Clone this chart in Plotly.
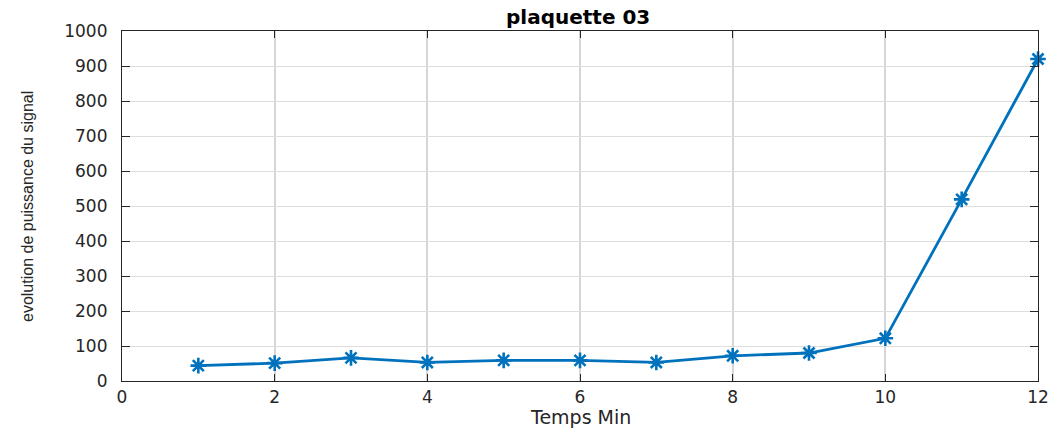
import plotly.graph_objects as go

temps = [1, 2, 3, 4, 5, 6, 7, 8, 9, 10, 11, 12]
puissance = [44, 51, 66, 53, 59, 59, 53, 72, 80, 122, 519, 920]
x_ticks = [0, 2, 4, 6, 8, 10, 12]
y_ticks = [0, 100, 200, 300, 400, 500, 600, 700, 800, 900, 1000]

fig = go.Figure()
fig.add_trace(go.Scatter(
    x=temps, y=puissance, mode="lines+markers",
    line=dict(color="#0072BD", width=2.8),
    marker=dict(symbol="asterisk", size=13, color="#0072BD",
                line=dict(color="#0072BD", width=2.6)),
    cliponaxis=False, showlegend=False,
))

axis_font = dict(family="DejaVu Sans, Liberation Sans, Arial", size=17, color="#262626")

L, R, T, B = 122, 17, 31, 47
W, H = 1055, 428
pw, ph = W - L - R, H - T - B

fig.update_layout(
    width=W, height=H,
    margin=dict(l=L, r=R, t=T, b=B, autoexpand=False),
    paper_bgcolor="white", plot_bgcolor="white",
    title=dict(text="<b>plaquette 03</b>", x=0.548, xanchor="center",
               y=1 - 17 / 428, yanchor="middle", yref="container",
               font=dict(family="DejaVu Sans, Liberation Sans, Arial", size=20, color="black")),
    xaxis=dict(
        range=[0, 12], tickvals=x_ticks, ticktext=[str(v) for v in x_ticks],
        showgrid=True, gridcolor="#d6d6d6", gridwidth=2,
        showline=True, linecolor="#262626", linewidth=1.2, mirror="ticks",
        ticks="inside", ticklen=7, tickcolor="#262626", tickwidth=1,
        tickfont=axis_font, zeroline=False, automargin=False, ticklabelstandoff=0,
    ),
    yaxis=dict(
        range=[0, 1000], tickvals=y_ticks, ticktext=[str(v) for v in y_ticks],
        showgrid=True, gridcolor="#dedede", gridwidth=1,
        showline=True, linecolor="#262626", linewidth=1.2, mirror="ticks",
        ticks="inside", ticklen=8, tickcolor="#262626", tickwidth=1,
        tickfont=axis_font, zeroline=False, ticklabelstandoff=10, automargin=False,
    ),
    annotations=[
        dict(text="Temps Min", xref="paper", yref="paper",
             x=(580 - L) / pw, y=-(417 - (H - B)) / ph, xanchor="center", yanchor="middle",
             showarrow=False,
             font=dict(family="DejaVu Sans, Liberation Sans, Arial", size=19, color="#262626")),
        dict(text="evolution de puissance du signal", xref="paper", yref="paper",
             x=-(L - 27) / pw, y=((H - B) - 207) / ph, xanchor="center", yanchor="middle",
             textangle=-90, showarrow=False,
             font=dict(family="Liberation Sans Narrow, Arial Narrow, Liberation Sans, Arial", size=16, color="#262626")),
    ],
)

fig.write_html("out.html")
